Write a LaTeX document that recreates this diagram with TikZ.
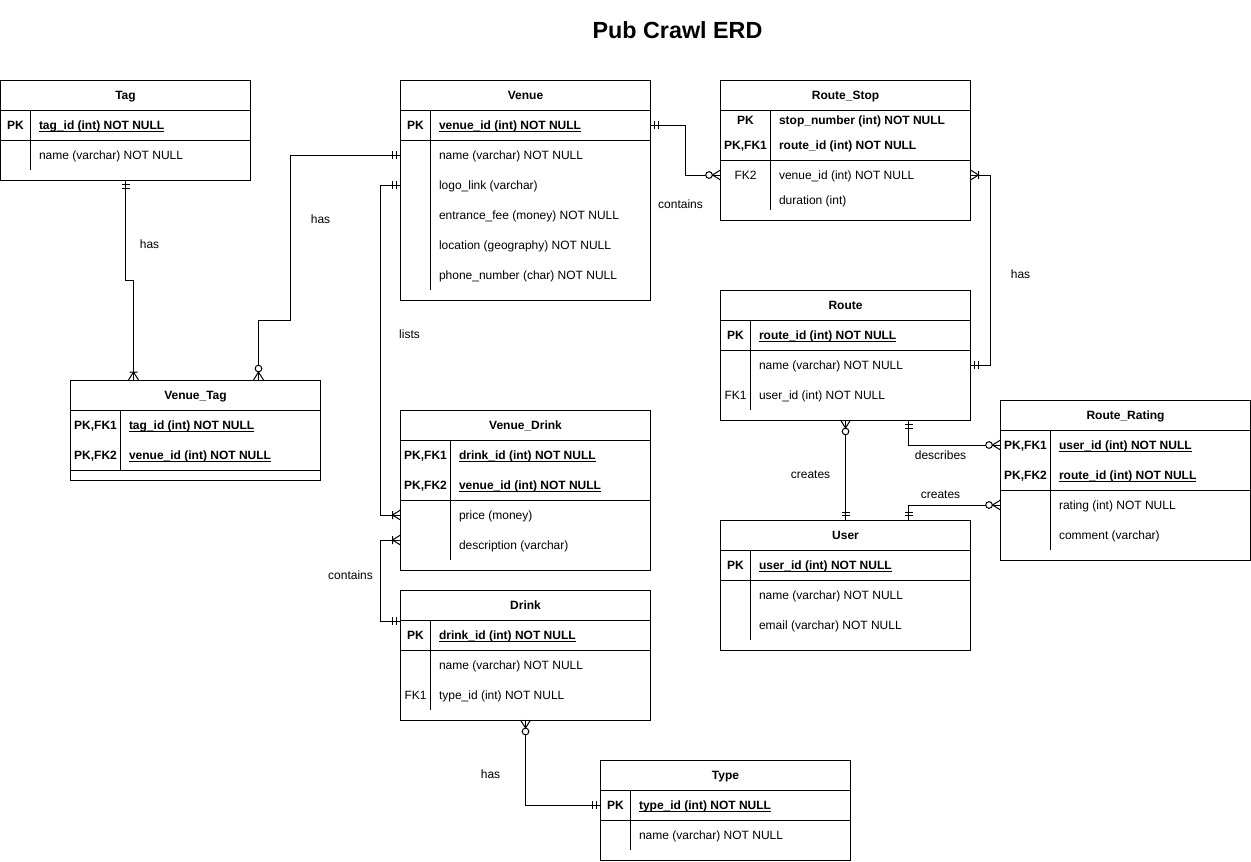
\documentclass[tikz,border=0pt]{standalone}
\usepackage{fontspec}
\setmainfont{Liberation Sans}
\usetikzlibrary{calc}

\newcommand{\pkey}[1]{\textbf{\underline{\smash{#1}}}}

% punte crow's foot
\pgfdeclarearrow{
  name = one,
  cache = false,
  setup code = {
    \pgfarrowssettipend{0pt}
    \pgfarrowssetlineend{0pt}
    \pgfarrowssetbackend{-6pt}
  },
  drawing code = {
    \pgfpathmoveto{\pgfpoint{-3.3pt}{-3pt}}
    \pgfpathlineto{\pgfpoint{-3.3pt}{3pt}}
    \pgfpathmoveto{\pgfpoint{-6pt}{-3pt}}
    \pgfpathlineto{\pgfpoint{-6pt}{3pt}}
    \pgfusepathqstroke
  }
}
\pgfdeclarearrow{
  name = many,
  cache = false,
  setup code = {
    \pgfarrowssettipend{0pt}
    \pgfarrowssetlineend{0pt}
    \pgfarrowssetbackend{-6pt}
  },
  drawing code = {
    \pgfsetroundjoin
    \pgfpathmoveto{\pgfpoint{0pt}{3.75pt}}
    \pgfpathlineto{\pgfpoint{-6pt}{0pt}}
    \pgfpathlineto{\pgfpoint{0pt}{-3.75pt}}
    \pgfpathmoveto{\pgfpoint{-6pt}{-3pt}}
    \pgfpathlineto{\pgfpoint{-6pt}{3pt}}
    \pgfusepathqstroke
  }
}
\pgfdeclarearrow{
  name = zmany,
  cache = false,
  setup code = {
    \pgfarrowssettipend{0pt}
    \pgfarrowssetlineend{0pt}
    \pgfarrowssetbackend{-11pt}
  },
  drawing code = {
    \pgfsetroundjoin
    \pgfpathmoveto{\pgfpoint{0pt}{3.75pt}}
    \pgfpathlineto{\pgfpoint{-6pt}{0pt}}
    \pgfpathlineto{\pgfpoint{0pt}{-3.75pt}}
    \pgfusepathqstroke
    \pgfpathcircle{\pgfpoint{-8.6pt}{0pt}}{2.5pt}
    \pgfsetfillcolor{white}
    \pgfusepathqfillstroke
  }
}

\begin{document}
\begin{tikzpicture}[x=0.75pt, y=-0.75pt, line width=0.75pt,
    every node/.style={font=\fontsize{9pt}{11pt}\selectfont},
    entity/.style={draw, anchor=north west, minimum width=187.5pt, inner sep=0pt, outer sep=0pt},
    head/.style={font=\fontsize{9pt}{11pt}\selectfont\bfseries, inner sep=0pt, text height=6.5pt, text depth=0pt},
    key/.style={inner sep=0pt, text height=6.5pt, text depth=0pt},
    attr/.style={anchor=west, inner sep=0pt, text height=6.5pt, text depth=0pt},
    rel/.style={inner sep=0pt, text height=6.5pt, text depth=0pt}]
    \useasboundingbox (-0.5,0) rectangle (1250.5,861);

    %%%%%%%%% Titolo %%%%%%%%%
    \node[font=\fontsize{17.5pt}{21pt}\selectfont\bfseries] (titolo) at (677,30) {Pub Crawl ERD};

    %%%%%%%%%% Tag %%%%%%%%%%
    \node[entity, minimum height=75pt] (tag) at (0,80) {};
    \draw (0,110) -- (250,110) (0,140) -- (250,140) (30,110) -- (30,170);
    \node[head] (tag-h) at (125,95) {Tag};
    \node[key] (tag-k1) at (15,125) {\textbf{PK}};
    \node[attr] (tag-a1) at (38,125) {\pkey{tag\_id (int) NOT NULL}};
    \node[attr] (tag-a2) at (38,155) {name (varchar) NOT NULL};

    %%%%%%% Venue_Tag %%%%%%%%
    \node[entity, minimum height=75pt] (vtag) at (70,380) {};
    \draw (70,410) -- (320,410) (70,470) -- (320,470) (120,410) -- (120,470);
    \node[head] (vtag-h) at (195,395) {Venue\_Tag};
    \node[key] (vtag-k1) at (95,425) {\textbf{PK,FK1}};
    \node[key] (vtag-k2) at (95,455) {\textbf{PK,FK2}};
    \node[attr] (vtag-a1) at (128,425) {\pkey{tag\_id (int) NOT NULL}};
    \node[attr] (vtag-a2) at (128,455) {\pkey{venue\_id (int) NOT NULL}};

    %%%%%%%%% Venue %%%%%%%%%%
    \node[entity, minimum height=165pt] (venue) at (400,80) {};
    \draw (400,110) -- (650,110) (400,140) -- (650,140) (430,110) -- (430,290);
    \node[head] (venue-h) at (525,95) {Venue};
    \node[key] (venue-k1) at (415,125) {\textbf{PK}};
    \node[attr] (venue-a1) at (438,125) {\pkey{venue\_id (int) NOT NULL}};
    \node[attr] (venue-a2) at (438,155) {name (varchar) NOT NULL};
    \node[attr] (venue-a3) at (438,185) {logo\_link (varchar)};
    \node[attr] (venue-a4) at (438,215) {entrance\_fee (money) NOT NULL};
    \node[attr] (venue-a5) at (438,245) {location (geography) NOT NULL};
    \node[attr] (venue-a6) at (438,275) {phone\_number (char) NOT NULL};

    %%%%%%% Route_Stop %%%%%%%
    \node[entity, minimum height=105pt] (rstop) at (720,80) {};
    \draw (720,110) -- (970,110) (720,160) -- (970,160) (770,110) -- (770,210);
    \node[head] (rstop-h) at (845,95) {Route\_Stop};
    \node[key] (rstop-k1) at (745,120) {\textbf{PK}};
    \node[key] (rstop-k2) at (745,145) {\textbf{PK,FK1}};
    \node[key] (rstop-k3) at (745,175) {FK2};
    \node[attr] (rstop-a1) at (778,120) {\textbf{stop\_number (int) NOT NULL}};
    \node[attr] (rstop-a2) at (778,145) {\textbf{route\_id (int) NOT NULL}};
    \node[attr] (rstop-a3) at (778,175) {venue\_id (int) NOT NULL};
    \node[attr] (rstop-a4) at (778,200) {duration (int)};

    %%%%%%%%% Route %%%%%%%%%%
    \node[entity, minimum height=97.5pt] (route) at (720,290) {};
    \draw (720,320) -- (970,320) (720,350) -- (970,350) (750,320) -- (750,410);
    \node[head] (route-h) at (845,305) {Route};
    \node[key] (route-k1) at (735,335) {\textbf{PK}};
    \node[key] (route-k3) at (735,395) {FK1};
    \node[attr] (route-a1) at (758,335) {\pkey{route\_id (int) NOT NULL}};
    \node[attr] (route-a2) at (758,365) {name (varchar) NOT NULL};
    \node[attr] (route-a3) at (758,395) {user\_id (int) NOT NULL};

    %%%%%%%% Route_Rating %%%%%%%%
    \node[entity, minimum height=120pt] (rating) at (1000,400) {};
    \draw (1000,430) -- (1250,430) (1000,490) -- (1250,490) (1050,430) -- (1050,550);
    \node[head] (rating-h) at (1125,415) {Route\_Rating};
    \node[key] (rating-k1) at (1025,445) {\textbf{PK,FK1}};
    \node[key] (rating-k2) at (1025,475) {\textbf{PK,FK2}};
    \node[attr] (rating-a1) at (1058,445) {\pkey{user\_id (int) NOT NULL}};
    \node[attr] (rating-a2) at (1058,475) {\pkey{route\_id (int) NOT NULL}};
    \node[attr] (rating-a3) at (1058,505) {rating (int) NOT NULL};
    \node[attr] (rating-a4) at (1058,535) {comment (varchar)};

    %%%%%%%%%% User %%%%%%%%%%
    \node[entity, minimum height=97.5pt] (user) at (720,520) {};
    \draw (720,550) -- (970,550) (720,580) -- (970,580) (750,550) -- (750,640);
    \node[head] (user-h) at (845,535) {User};
    \node[key] (user-k1) at (735,565) {\textbf{PK}};
    \node[attr] (user-a1) at (758,565) {\pkey{user\_id (int) NOT NULL}};
    \node[attr] (user-a2) at (758,595) {name (varchar) NOT NULL};
    \node[attr] (user-a3) at (758,625) {email (varchar) NOT NULL};

    %%%%%%% Venue_Drink %%%%%%
    \node[entity, minimum height=120pt] (vdrink) at (400,410) {};
    \draw (400,440) -- (650,440) (400,500) -- (650,500) (450,440) -- (450,560);
    \node[head] (vdrink-h) at (525,425) {Venue\_Drink};
    \node[key] (vdrink-k1) at (425,455) {\textbf{PK,FK1}};
    \node[key] (vdrink-k2) at (425,485) {\textbf{PK,FK2}};
    \node[attr] (vdrink-a1) at (458,455) {\pkey{drink\_id (int) NOT NULL}};
    \node[attr] (vdrink-a2) at (458,485) {\pkey{venue\_id (int) NOT NULL}};
    \node[attr] (vdrink-a3) at (458,515) {price (money)};
    \node[attr] (vdrink-a4) at (458,545) {description (varchar)};

    %%%%%%%%% Drink %%%%%%%%%%
    \node[entity, minimum height=97.5pt] (drink) at (400,590) {};
    \draw (400,620) -- (650,620) (400,650) -- (650,650) (430,620) -- (430,710);
    \node[head] (drink-h) at (525,605) {Drink};
    \node[key] (drink-k1) at (415,635) {\textbf{PK}};
    \node[key] (drink-k3) at (415,695) {FK1};
    \node[attr] (drink-a1) at (438,635) {\pkey{drink\_id (int) NOT NULL}};
    \node[attr] (drink-a2) at (438,665) {name (varchar) NOT NULL};
    \node[attr] (drink-a3) at (438,695) {type\_id (int) NOT NULL};

    %%%%%%%%%% Type %%%%%%%%%%
    \node[entity, minimum height=75pt] (type) at (600,760) {};
    \draw (600,790) -- (850,790) (600,820) -- (850,820) (630,790) -- (630,850);
    \node[head] (type-h) at (725,775) {Type};
    \node[key] (type-k1) at (615,805) {\textbf{PK}};
    \node[attr] (type-a1) at (638,805) {\pkey{type\_id (int) NOT NULL}};
    \node[attr] (type-a2) at (638,835) {name (varchar) NOT NULL};

    %%%%%%%% Relazioni %%%%%%%%
    \coordinate (vt-a) at ($(vtag.north west)+(63,0)$);
    \coordinate (vt-b) at ($(vtag.north west)+(188,0)$);
    \coordinate (dr-a) at ($(drink.north west)+(0,31)$);
    \coordinate (vd-a) at ($(vdrink.south west)+(0,-30)$);
    \coordinate (ro-a) at ($(route.south)+(63,0)$);
    \coordinate (us-a) at ($(user.north)+(63,0)$);
    \draw[one-many] (tag.south) -- ++(0,100) -| (vt-a);
    \draw[one-zmany] (venue.west |- venue-a2) -| ($(vt-b)+(32,-60)$) -| (vt-b);
    \draw[one-many] (venue.west |- venue-a3) -- ++(-20,0) |- (vdrink.west |- vdrink-a3);
    \draw[one-many] (dr-a) -- ++(-20,0) |- (vd-a);
    \draw[one-zmany] (venue.east |- venue-a1) -- ++(35,0) |- (rstop.west |- rstop-a3);
    \draw[one-many] (route.east |- route-a2) -- ++(20,0) |- (rstop.east |- rstop-a3);
    \draw[zmany-one] (route.south) -- (user.north);
    \draw[one-zmany] (ro-a) |- (rating.west |- rating-a1);
    \draw[one-zmany] (us-a) |- (rating.west |- rating-a3);
    \draw[zmany-one] (drink.south) |- (type.west |- type-a1);

    %%%%%%%% Etichette %%%%%%%%
    \node[rel] (r-has1) at (149,244) {has};
    \node[rel] (r-has2) at (320,219) {has};
    \node[rel] (r-lists) at (409,334) {lists};
    \node[rel] (r-cont1) at (350,575) {contains};
    \node[rel] (r-cont2) at (680,204) {contains};
    \node[rel] (r-has3) at (1020,274) {has};
    \node[rel] (r-creat1) at (810,474) {creates};
    \node[rel] (r-descr) at (940,455) {describes};
    \node[rel] (r-creat2) at (940,494) {creates};
    \node[rel] (r-has4) at (490,774) {has};
\end{tikzpicture}
\end{document}
